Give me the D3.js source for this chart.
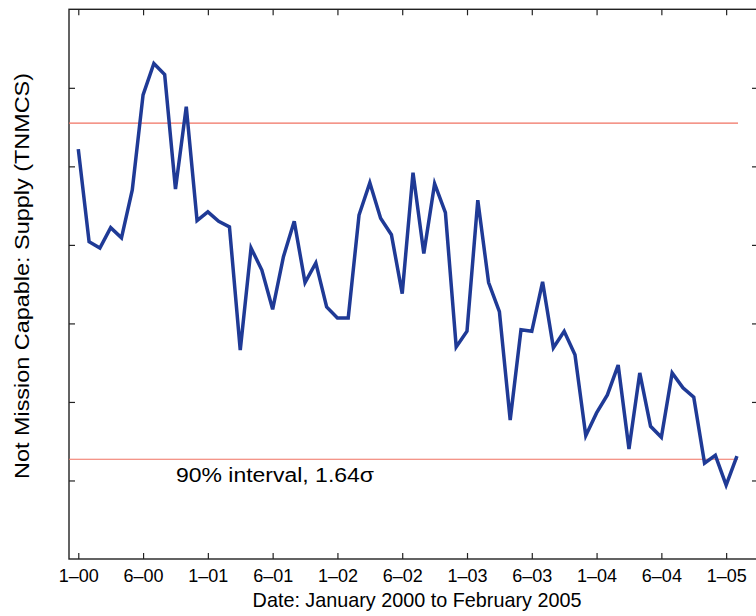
<!DOCTYPE html>
<html>
<head>
<meta charset="utf-8">
<script src="https://cdn.jsdelivr.net/npm/d3@7"></script>
<style>
	body { margin: 0; background: #fff; }
	text { font-family: "Liberation Sans", Arial, Helvetica, sans-serif; fill: #000; }
</style>
</head>
<body>
<div id="chartContainer"></div>
<script>
// monthly TNMCS, Jan 2000 .. Feb 2005 (index 0 = Jan 2000)
var tnmcs = [5.22, 4.04, 3.96, 4.22, 4.09, 4.70, 5.91, 6.31, 6.17, 4.71,
	5.76, 4.31, 4.42, 4.30, 4.23, 2.66, 3.96, 3.68, 3.18, 3.85,
	4.30, 3.52, 3.77, 3.21, 3.07, 3.07, 4.38, 4.79, 4.34, 4.13,
	3.38, 4.92, 3.89, 4.78, 4.41, 2.70, 2.90, 4.57, 3.52, 3.15,
	1.77, 2.92, 2.90, 3.53, 2.69, 2.90, 2.60, 1.57, 1.86, 2.09,
	2.47, 1.40, 2.37, 1.69, 1.55, 2.37, 2.18, 2.06, 1.22, 1.32,
	0.94, 1.31];
var tickIdx = [0, 6, 12, 18, 24, 30, 36, 42, 48, 54, 60];
var tickLabels = ["1\u201300", "6\u201300", "1\u201301", "6\u201301", "1\u201302", "6\u201302",
	"1\u201303", "6\u201303", "1\u201304", "6\u201304", "1\u201305"];
var yTicks = [1, 2, 3, 4, 5, 6];
var upperLimit = 5.55;
var lowerLimit = 1.27;

var width = 756, height = 616;
var plotLeft = 69, plotRight = 758, plotTop = 9.3, plotBottom = 559;

var svg = d3.select("#chartContainer").append("svg")
	.attr("width", width)
	.attr("height", height);

var x = d3.scaleLinear().domain([-0.86, 62.95]).range([plotLeft, plotRight]);
var y = d3.scaleLinear().domain([0, 7]).range([plotBottom, plotTop]);

// frame
svg.append("rect")
	.attr("x", plotLeft).attr("y", plotTop)
	.attr("width", plotRight - plotLeft).attr("height", plotBottom - plotTop)
	.style("fill", "none")
	.style("stroke", "#222")
	.style("stroke-width", 1.4);

// ticks, all pointing inwards
var xAxis = svg.append("g")
	.attr("transform", "translate(0," + plotBottom + ")")
	.call(d3.axisBottom(x).tickValues(tickIdx).tickSize(-6).tickPadding(10)
		.tickFormat(function (d, i) { return tickLabels[i]; }));
xAxis.selectAll("text").style("font-size", "18px").style("fill", "#000");

svg.append("g")
	.attr("transform", "translate(0," + plotTop + ")")
	.call(d3.axisTop(x).tickValues(tickIdx).tickSize(-6).tickFormat(""));
svg.append("g")
	.attr("transform", "translate(" + plotLeft + ",0)")
	.call(d3.axisLeft(y).tickValues(yTicks).tickSize(-6).tickFormat(""));
svg.append("g")
	.attr("transform", "translate(" + plotRight + ",0)")
	.call(d3.axisRight(y).tickValues(yTicks).tickSize(-6).tickFormat(""));

svg.selectAll(".domain").remove();
svg.selectAll(".tick line").style("stroke", "#222").style("stroke-width", 1.2);

// 90% interval lines
svg.selectAll("limit_line")
	.data([upperLimit, lowerLimit])
	.enter()
	.append("line")
	.attr("x1", plotLeft)
	.attr("x2", x(61.1))
	.attr("y1", function (d) { return y(d); })
	.attr("y2", function (d) { return y(d); })
	.style("stroke", "#f07262")
	.style("stroke-width", 1.2);

// series
var line = d3.line()
	.x(function (d, i) { return x(i); })
	.y(function (d) { return y(d); });
svg.append("path")
	.datum(tnmcs)
	.attr("d", line)
	.style("fill", "none")
	.style("stroke", "#1f3a96")
	.style("stroke-width", 3.5)
	.style("stroke-linejoin", "miter");

svg.append("text")
	.attr("x", 176)
	.attr("y", 481.7)
	.attr("textLength", 198)
	.attr("lengthAdjust", "spacingAndGlyphs")
	.style("font-size", "20px")
	.text("90% interval, 1.64\u03c3");

// axis titles
svg.append("text")
	.attr("x", 417)
	.attr("y", 606.7)
	.attr("text-anchor", "middle")
	.style("font-size", "19.8px")
	.text("Date: January 2000 to February 2005");

svg.append("text")
	.attr("transform", "translate(29,276) rotate(-90)")
	.attr("text-anchor", "middle")
	.attr("textLength", 406)
	.attr("lengthAdjust", "spacingAndGlyphs")
	.style("font-size", "20px")
	.text("Not Mission Capable: Supply (TNMCS)");
</script>
</body>
</html>
